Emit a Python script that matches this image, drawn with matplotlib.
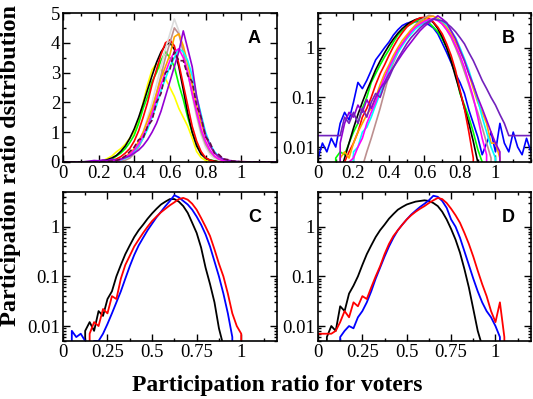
import matplotlib
matplotlib.use("Agg")
import matplotlib.pyplot as plt
import numpy as np
from matplotlib.ticker import LogLocator, MultipleLocator, NullFormatter

SERIF = ["Liberation Serif", "DejaVu Serif"]
SANS = ["Liberation Sans", "DejaVu Sans"]
plt.rcParams["font.family"] = SERIF

# bin centres, shared by all four panels
X = [0.000, 0.025, 0.050, 0.075, 0.100, 0.125, 0.150, 0.175,
     0.200, 0.225, 0.250, 0.275, 0.300, 0.325, 0.350, 0.375,
     0.400, 0.425, 0.450, 0.475, 0.500, 0.525, 0.550, 0.575,
     0.600, 0.625, 0.650, 0.675, 0.700, 0.725, 0.750, 0.775,
     0.800, 0.825, 0.850, 0.875, 0.900, 0.925, 0.950, 0.975,
     1.000, 1.025, 1.050, 1.075, 1.100, 1.125, 1.150, 1.175, 1.200]

# panels A / B: one distribution per election
YELLOW = [0, 0, 0, 0, 0, 0.004, 0.006, 0.01,
          0.02, 0.05, 0.12, 0.2, 0.34, 0.45, 0.6, 0.8,
          1.0, 1.4, 2.0, 2.6, 3.1, 3.3, 3.1, 2.8,
          2.5, 2.2, 1.8, 1.5, 1.2, 0.8, 0.35, 0.15,
          0.05, 0.02, 0.01, 0.005, 0, 0, 0, 0,
          0, 0, 0, 0, 0, 0, 0, 0, 0]
GREEN = [0, 0, 0, 0, 0.006, 0.008, 0.007, 0.012,
         0.02, 0.03, 0.06, 0.1, 0.2, 0.3, 0.45, 0.65,
         0.9, 1.3, 1.8, 2.2, 2.7, 3.0, 3.4, 3.7,
         3.5, 3.2, 2.6, 2.1, 1.5, 1.0, 0.6, 0.3,
         0.12, 0.07, 0.04, 0.02, 0.009, 0.005, 0, 0,
         0, 0, 0, 0, 0, 0, 0, 0, 0]
BLACK = [0, 0, 0, 0, 0, 0.003, 0.006, 0.012,
         0.024, 0.045, 0.08, 0.136, 0.22, 0.36, 0.54, 0.79,
         1.11, 1.5, 1.95, 2.43, 2.9, 3.34, 3.69, 3.92,
         4.0, 3.78, 3.2, 2.43, 1.64, 1.0, 0.54, 0.26,
         0.13, 0.06, 0.03, 0.013, 0.005, 0, 0, 0,
         0, 0, 0, 0, 0, 0, 0, 0, 0]
RED = [0, 0, 0, 0, 0, 0, 0.005, 0.008,
       0.012, 0.02, 0.04, 0.06, 0.1, 0.18, 0.3, 0.45,
       0.7, 1.05, 1.5, 2.0, 2.6, 3.1, 3.6, 4.0,
       4.1, 3.9, 3.3, 2.6, 1.9, 1.2, 0.7, 0.35,
       0.14, 0.06, 0.02, 0.006, 0, 0, 0, 0,
       0, 0, 0, 0, 0, 0, 0, 0, 0]
BLUE = [0.006, 0.012, 0.008, 0.015, 0.01, 0.03, 0.05, 0.035,
        0.08, 0.2, 0.15, 0.22, 0.35, 0.57, 0.75, 1.0,
        1.3, 1.8, 2.3, 2.8, 3.1, 3.3, 3.35, 3.3,
        3.1, 2.9, 2.5, 1.9, 1.24, 0.8, 0.5, 0.3,
        0.2, 0.12, 0.056, 0.03, 0.016, 0.007, 0.012, 0.02,
        0.008, 0.03, 0.012, 0.008, 0.02, 0.01, 0.007, 0.015, 0.008]
MAGENTA = [0, 0, 0, 0, 0, 0, 0, 0.005,
           0.006, 0.01, 0.015, 0.03, 0.05, 0.08, 0.15, 0.25,
           0.4, 0.6, 0.9, 1.2, 1.6, 2.1, 2.6, 3.0,
           3.4, 3.7, 3.8, 3.5, 3.0, 2.3, 1.7, 1.1,
           0.7, 0.4, 0.2, 0.1, 0.04, 0.015, 0.007, 0,
           0, 0, 0, 0, 0, 0, 0, 0, 0]
ORANGE = [0, 0, 0, 0, 0, 0.006, 0.008, 0.006,
          0.012, 0.02, 0.03, 0.045, 0.06, 0.1, 0.18, 0.3,
          0.45, 0.7, 1.0, 1.4, 1.8, 2.3, 2.8, 3.2,
          3.6, 4.2, 4.3, 3.9, 3.3, 2.6, 1.9, 1.3,
          0.85, 0.55, 0.3, 0.15, 0.08, 0.05, 0.03, 0.012,
          0.012, 0.006, 0, 0, 0, 0, 0, 0, 0]
CYAN = [0, 0, 0, 0, 0, 0, 0, 0,
        0.008, 0.01, 0.02, 0.025, 0.04, 0.07, 0.12, 0.2,
        0.35, 0.55, 0.8, 1.1, 1.5, 1.9, 2.4, 2.8,
        3.2, 3.5, 3.8, 3.7, 3.4, 2.9, 2.2, 1.6,
        1.0, 0.6, 0.35, 0.18, 0.09, 0.04, 0.02, 0.01,
        0.006, 0, 0, 0, 0, 0, 0, 0, 0]
BROWN = [0, 0, 0, 0, 0, 0, 0, 0,
         0, 0, 0.004, 0.008, 0.015, 0.03, 0.06, 0.13,
         0.28, 0.5, 0.8, 1.2, 1.7, 2.3, 2.9, 3.5,
         4.0, 4.5, 4.3, 3.7, 3.0, 2.3, 1.6, 1.0,
         0.6, 0.33, 0.18, 0.09, 0.05, 0.025, 0.012, 0.006,
         0, 0, 0, 0, 0, 0, 0, 0, 0]
GREY = [0, 0, 0, 0, 0, 0, 0, 0,
        0, 0, 0.005, 0.01, 0.03, 0.06, 0.12, 0.22,
        0.4, 0.65, 1.0, 1.5, 2.0, 2.6, 3.2, 3.8,
        4.3, 4.8, 4.4, 3.7, 3.0, 2.2, 1.5, 0.9,
        0.5, 0.25, 0.12, 0.06, 0.03, 0.012, 0.005, 0,
        0, 0, 0, 0, 0, 0, 0, 0, 0]
VIOLET = [0, 0, 0, 0, 0, 0.012, 0.03, 0.05,
          0.04, 0.07, 0.05, 0.09, 0.06, 0.1, 0.15, 0.2,
          0.3, 0.4, 0.55, 0.75, 1.0, 1.3, 1.7, 2.2,
          2.7, 3.2, 3.7, 4.4, 3.8, 3.2, 2.2, 1.5,
          0.9, 0.55, 0.3, 0.18, 0.1, 0.06, 0.035, 0.02,
          0.012, 0.008, 0, 0, 0, 0, 0, 0, 0]
INDIGO = [0.017, 0.017, 0.017, 0.017, 0.017, 0.017, 0.04, 0.03,
          0.05, 0.03, 0.06, 0.04, 0.08, 0.12, 0.1, 0.18,
          0.25, 0.4, 0.6, 0.85, 1.2, 1.6, 2.0, 2.5,
          3.0, 3.4, 3.8, 3.6, 3.5, 3.1, 2.6, 2.1,
          1.6, 1.2, 0.8, 0.55, 0.35, 0.22, 0.15, 0.1,
          0.07, 0.045, 0.03, 0.017, 0.017, 0.017, 0.017, 0.017, 0.017]
MAROON = [0, 0, 0, 0, 0, 0, 0, 0,
          0, 0.01, 0.02, 0.03, 0.05, 0.1, 0.2, 0.35,
          0.5, 0.75, 0.8, 1.2, 1.4, 2.0, 2.3, 3.0,
          3.1, 3.7, 3.4, 3.4, 2.9, 2.7, 1.9, 1.5,
          0.85, 0.65, 0.3, 0.25, 0.1, 0.08, 0.03, 0.02,
          0, 0, 0, 0, 0, 0, 0, 0, 0]

# panel C
C_BLACK = [0, 0, 0, 0, 0, 0.008, 0.012, 0.008,
           0.02, 0.016, 0.035, 0.05, 0.1, 0.17, 0.28, 0.42,
           0.62, 0.85, 1.1, 1.45, 1.85, 2.3, 2.8, 3.2,
           3.6, 3.6, 3.2, 2.6, 1.9, 1.2, 0.75, 0.38,
           0.15, 0.07, 0.03, 0.009, 0.004, 0, 0, 0,
           0, 0, 0, 0, 0, 0, 0, 0, 0]
C_RED = [0, 0, 0, 0, 0, 0, 0.007, 0.012,
         0.01, 0.022, 0.018, 0.04, 0.035, 0.09, 0.17, 0.26,
         0.4, 0.55, 0.75, 1.0, 1.3, 1.6, 1.95, 2.3,
         2.7, 3.1, 3.6, 3.8, 3.5, 2.9, 2.2, 1.5,
         1.0, 0.65, 0.35, 0.18, 0.1, 0.045, 0.018, 0.01,
         0.007, 0, 0, 0, 0, 0, 0, 0, 0]
C_BLUE = [0, 0, 0.008, 0.006, 0.007, 0.005, 0.004, 0.005,
          0.005, 0.007, 0.011, 0.018, 0.03, 0.05, 0.09, 0.16,
          0.27, 0.42, 0.6, 0.85, 1.15, 1.55, 2.0, 2.6,
          3.3, 4.3, 3.9, 3.3, 2.8, 2.2, 1.6, 1.1,
          0.7, 0.4, 0.2, 0.1, 0.045, 0.018, 0.006, 0,
          0, 0, 0, 0, 0, 0, 0, 0, 0]

# panel D
D_BLACK = [0, 0, 0.006, 0.01, 0.008, 0.025, 0.02, 0.045,
           0.065, 0.1, 0.17, 0.28, 0.42, 0.62, 0.85, 1.1,
           1.45, 1.8, 2.2, 2.5, 2.8, 3.0, 3.2, 3.3,
           3.4, 3.3, 3.0, 2.6, 2.0, 1.4, 0.9, 0.55,
           0.3, 0.14, 0.06, 0.022, 0.008, 0.004, 0, 0,
           0, 0, 0, 0, 0, 0, 0, 0, 0]
D_RED = [0.007, 0.007, 0.007, 0.007, 0.008, 0.012, 0.02, 0.015,
         0.03, 0.025, 0.04, 0.035, 0.06, 0.1, 0.16, 0.28,
         0.45, 0.65, 0.85, 1.1, 1.4, 1.7, 2.0, 2.3,
         2.6, 3.0, 3.4, 3.8, 3.6, 3.0, 2.3, 1.7,
         1.2, 0.75, 0.45, 0.25, 0.13, 0.07, 0.04, 0.02,
         0.012, 0.03, 0.006, 0, 0, 0, 0, 0, 0]
D_BLUE = [0, 0, 0, 0, 0, 0.006, 0.008, 0.01,
          0.009, 0.015, 0.02, 0.03, 0.05, 0.09, 0.15, 0.25,
          0.4, 0.6, 0.85, 1.1, 1.4, 1.75, 2.1, 2.5,
          2.9, 3.4, 4.2, 4.0, 3.3, 2.4, 1.4, 1.0,
          0.6, 0.32, 0.17, 0.09, 0.05, 0.03, 0.02, 0.015,
          0.01, 0.006, 0, 0, 0, 0, 0, 0, 0]

A_CURVES = [(YELLOW, "#ffff00", "-"), (GREEN, "#00ff00", "-"),
            (BLACK, "black", "-"), (RED, "red", "-"),
            (GREY, "#dcdcdc", "-"), (BROWN, "#bc8f8f", "-"),
            (ORANGE, "#ffa500", "-"), (CYAN, "#00ffff", "-"),
            (MAGENTA, "#ff00ff", "-"), (VIOLET, "#9400d3", "-"),
            (MAROON, "#670748", (0, (3, 1.5)))]
B_CURVES = [(BLUE, "blue", "-"), (GREEN, "#00ff00", "-"),
            (BLACK, "black", "-"), (RED, "red", "-"),
            (BROWN, "#bc8f8f", "-"), (ORANGE, "#ffa500", "-"),
            (CYAN, "#00ffff", "-"), (MAGENTA, "#ff00ff", "-"),
            (VIOLET, "#9400d3", "-"), (INDIGO, "#7221bc", "-")]


def style_axes(ax, letter, log=False, quarter=False):
    ax.set_xlim(0, 1.2)
    if quarter:
        ax.set_xticks([0, 0.25, 0.5, 0.75, 1.0])
        ax.set_xticklabels(["0", "0.25", "0.5", "0.75", "1"], fontfamily=SERIF)
        ax.xaxis.set_minor_locator(MultipleLocator(0.125))
    else:
        ax.set_xticks([0, 0.2, 0.4, 0.6, 0.8, 1.0])
        ax.set_xticklabels(["0", "0.2", "0.4", "0.6", "0.8", "1"], fontfamily=SERIF)
        ax.xaxis.set_minor_locator(MultipleLocator(0.1))
    if log:
        ax.set_yscale("log")
        ax.set_ylim(0.005, 5)
        ax.set_yticks([0.01, 0.1, 1])
        ax.set_yticklabels(["0.01", "0.1", "1"], fontfamily=SERIF)
        ax.yaxis.set_minor_locator(LogLocator(base=10, subs=np.arange(2, 10)))
        ax.yaxis.set_minor_formatter(NullFormatter())
    else:
        ax.set_ylim(0, 5)
        ax.set_yticks([0, 1, 2, 3, 4, 5])
        ax.set_yticklabels(["0", "1", "2", "3", "4", "5"], fontfamily=SERIF)
        ax.yaxis.set_minor_locator(MultipleLocator(0.5))
    ax.tick_params(which="both", direction="in", top=True, right=True,
                   width=1.0, labelsize=13.5, pad=2)
    ax.tick_params(which="major", length=5)
    ax.tick_params(which="minor", length=2.5)
    for sp in ax.spines.values():
        sp.set_linewidth(1.2)
    ax.text(0.895, 0.83, letter, transform=ax.transAxes, ha="center",
            va="center", fontsize=13, fontweight="bold", family=SANS)


fig = plt.figure(figsize=(5.33, 3.99), dpi=100)
axA = fig.add_axes([0.118, 0.594, 0.4015, 0.3734])
axB = fig.add_axes([0.5966, 0.594, 0.3996, 0.3734])
axC = fig.add_axes([0.118, 0.1454, 0.4015, 0.3734])
axD = fig.add_axes([0.5966, 0.1454, 0.3996, 0.3734])

for y, c, ls in A_CURVES:
    axA.plot(X, y, color=c, ls=ls, lw=1.2)
for y, c, ls in B_CURVES:
    axB.plot(X, y, color=c, ls=ls, lw=1.2)
for y, c in [(C_BLACK, "black"), (C_BLUE, "blue"), (C_RED, "red")]:
    axC.plot(X, y, color=c, lw=1.3)
for y, c in [(D_BLACK, "black"), (D_BLUE, "blue"), (D_RED, "red")]:
    axD.plot(X, y, color=c, lw=1.3)

style_axes(axA, "A")
style_axes(axB, "B", log=True)
style_axes(axC, "C", log=True, quarter=True)
style_axes(axD, "D", log=True, quarter=True)

fig.text(0.02, 0.585, "Participation ratio dsitribution", rotation=90,
         ha="center", va="center", fontsize=17.5, fontweight="bold")
fig.text(0.52, 0.035, "Participation ratio for voters", ha="center",
         va="center", fontsize=17, fontweight="bold")

fig.savefig("out.png", dpi=100)
